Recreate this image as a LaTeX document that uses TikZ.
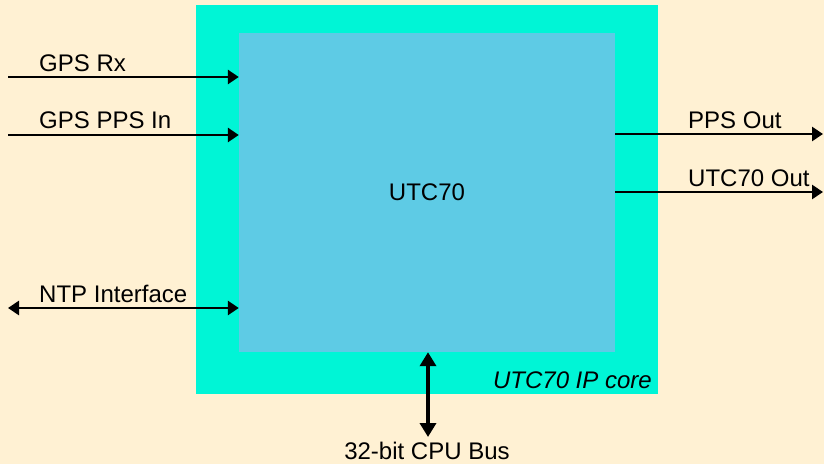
\documentclass[tikz,border=0pt]{standalone}
\usepackage{fontspec}
\setmainfont{Liberation Sans}
\usepackage{tikz}
\usetikzlibrary{arrows.meta,positioning,calc}
\definecolor{CoreAqua}{HTML}{00F5D6}
\definecolor{UtcBlue}{HTML}{5ECBE5}
\definecolor{PaperPeach}{HTML}{FFF1D3}
\tikzset{
  corebox/.style={fill=CoreAqua,draw=none,inner sep=0pt,minimum width=462pt,minimum height=389pt},
  utcbox/.style={fill=UtcBlue,draw=none,inner sep=0pt,minimum width=376pt,minimum height=319pt,font=\fontsize{24}{28}\selectfont},
  siglabel/.style={inner sep=0pt,font=\fontsize{24}{28}\selectfont,anchor=base west},
  sigarrow/.style={-{Triangle[length=11pt,width=14pt]},line width=2.9pt,draw=black},
  bothsig/.style={{Triangle[length=11pt,width=14pt]}-{Triangle[length=11pt,width=14pt]},line width=2.9pt,draw=black},
  busarrow/.style={{Triangle[length=14pt,width=16pt]}-{Triangle[length=14pt,width=16pt]},line width=4.6pt,draw=black}
}

\begin{document}
\begin{tikzpicture}[x=1pt,y=1pt]
\fill[PaperPeach] (0,0) rectangle (824,464);
\useasboundingbox (0,0) rectangle (824,464);

\node[corebox] (core) at (427,264.5) {};
\node[utcbox] (utc) at (427,271.5) {UTC70};
\node[inner sep=0pt,font=\fontsize{24}{28}\selectfont\itshape,anchor=base east] (corelbl) at (652,76) {UTC70 IP core};

% inputs on the left
\coordinate (rxin) at (8,387);
\coordinate (ppsin) at (8,329);
\coordinate (ntpend) at (8,156);
\draw[sigarrow] (rxin) -- (utc.west |- rxin);
\draw[sigarrow] (ppsin) -- (utc.west |- ppsin);
\draw[bothsig] (ntpend) -- (utc.west |- ntpend);
\node[siglabel] (rxlbl) at (39,392) {GPS Rx};
\node[siglabel] (ppsinlbl) at (39,335) {GPS PPS In};
\node[siglabel] (ntplbl) at (39,162) {NTP Interface};

% outputs on the right
\coordinate (ppsout) at (823,330);
\coordinate (utcout) at (823,272);
\draw[sigarrow] (utc.east |- ppsout) -- (ppsout);
\draw[sigarrow] (utc.east |- utcout) -- (utcout);
\node[siglabel] (ppsoutlbl) at (688,335) {PPS Out};
\node[siglabel] (utcoutlbl) at (688,277) {UTC70 Out};

% cpu bus
\coordinate (busend) at (428,27);
\draw[busarrow] (utc.south -| busend) -- (busend);
\node[siglabel,anchor=base] (buslbl) at (427,5) {32-bit CPU Bus};
\end{tikzpicture}
\end{document}
